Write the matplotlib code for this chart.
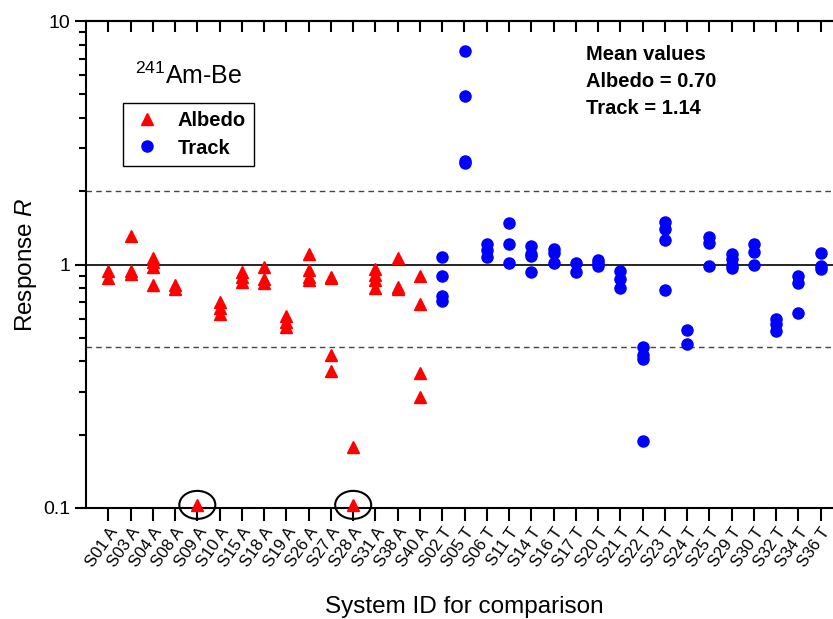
import matplotlib
matplotlib.use('Agg')
import matplotlib.pyplot as plt
from matplotlib.patches import Ellipse
from matplotlib.lines import Line2D
from matplotlib.ticker import FixedLocator, NullFormatter, LogLocator
from matplotlib.transforms import ScaledTranslation

plt.rcParams['font.family'] = ['Liberation Sans', 'DejaVu Sans']
plt.rcParams['mathtext.fontset'] = 'custom'
plt.rcParams['mathtext.rm'] = 'Liberation Sans'
plt.rcParams['mathtext.it'] = 'Liberation Sans:italic'

# ── Data ──────────────────────────────────────────────────────────────────────
albedo_ids = ["S01", "S03", "S04", "S08", "S09", "S10", "S15", "S18",
              "S19", "S26", "S27", "S28", "S31", "S38", "S40"]
albedo_values = [
    [0.94, 0.88],
    [1.31, 0.94, 0.91],
    [1.06, 1.02, 0.98, 0.82],
    [0.82, 0.795],
    [0.103],
    [0.70, 0.66, 0.625],
    [0.93, 0.89, 0.85],
    [0.975, 0.87, 0.84],
    [0.615, 0.58, 0.555],
    [1.10, 0.95, 0.89, 0.86],
    [0.89, 0.88, 0.425, 0.365],
    [0.178, 0.103],
    [0.955, 0.905, 0.86, 0.80],
    [1.065, 0.81, 0.795],
    [0.90, 0.69, 0.36, 0.285],
]

track_ids = ["S02", "S05", "S06", "S11", "S14", "S16", "S17", "S20", "S21",
             "S22", "S23", "S24", "S25", "S29", "S30", "S32", "S34", "S36"]
track_values = [
    [1.07, 0.90, 0.745, 0.705],
    [7.55, 4.9, 2.65, 2.6],
    [1.21, 1.15, 1.07],
    [1.48, 1.21, 1.01],
    [1.19, 1.10, 1.08, 0.93],
    [1.155, 1.11, 1.01],
    [1.01, 0.935],
    [1.04, 1.01, 0.99],
    [0.94, 0.87, 0.80],
    [0.46, 0.425, 0.41, 0.188],
    [1.50, 1.395, 1.26, 0.785],
    [0.54, 0.47],
    [1.30, 1.23, 0.99],
    [1.10, 1.05, 1.0, 0.965],
    [1.21, 1.13, 1.0],
    [0.60, 0.57, 0.535],
    [0.90, 0.84, 0.635],
    [1.11, 0.985, 0.96],
]

circled = ["S09", "S28"]      # results below detection, plotted at 0.1
circled_value = 0.103
upper_limit = 2.0
lower_limit = 0.46
mean_albedo = 0.70
mean_track = 1.14

labels = [f"{s} A" for s in albedo_ids] + [f"{s} T" for s in track_ids]
n = len(labels)

# ── Figure ────────────────────────────────────────────────────────────────────
W, H = 833, 619
fig = plt.figure(figsize=(W / 100, H / 100), dpi=100)
ax = fig.add_axes([86 / W, 1 - 508 / H, (843 - 86) / W, (508 - 21) / H])

for i, vals in enumerate(albedo_values):
    ax.plot([i + 1] * len(vals), vals, linestyle='none', marker='^',
            ms=9, color='#ff0000', mec='#ff0000', clip_on=False, zorder=4)
off = len(albedo_ids)
for i, vals in enumerate(track_values):
    ax.plot([off + i + 1] * len(vals), vals, linestyle='none', marker='o',
            ms=8, color='#0000ff', mec='#0000ff', clip_on=False, zorder=4)

# reference lines
ax.axhline(1.0, color='black', lw=1.2, zorder=1)
for v in (upper_limit, lower_limit):
    ax.axhline(v, color='#444444', lw=1.0, ls=(0, (4, 3)), zorder=1)

# circles around the points at the detection limit
for s in circled:
    xpos = albedo_ids.index(s) + 1
    tr = fig.dpi_scale_trans + ScaledTranslation(xpos, circled_value, ax.transData)
    ax.add_patch(Ellipse((0, 0), 0.36, 0.28, transform=tr, fill=False,
                         edgecolor='black', lw=1.5, clip_on=False, zorder=5))

# ── Axes ──────────────────────────────────────────────────────────────────────
ax.set_yscale('log')
ax.set_ylim(0.1, 10)
ax.set_xlim(0, 34)
ax.yaxis.set_major_locator(FixedLocator([0.1, 1, 10]))
ax.set_yticklabels(["0.1", "1", "10"])
ax.yaxis.set_minor_locator(LogLocator(base=10, subs=range(2, 10)))
ax.yaxis.set_minor_formatter(NullFormatter())

ax.set_xticks(range(1, n + 1))
ax.set_xticklabels(labels, rotation=55, ha='right', va='top',
                   rotation_mode='anchor', fontsize=12)
ax.tick_params(axis='x', which='major', direction='out', length=9, width=1.5,
               top=False, pad=3)
ax.tick_params(axis='y', which='major', direction='out', length=8, width=1.5,
               labelsize=14, right=False)
ax.tick_params(axis='y', which='minor', direction='out', length=5, width=1.5,
               right=False)

# top ticks pointing inward
sec = ax.secondary_xaxis('top')
sec.set_xticks(range(1, n + 1))
sec.set_xticklabels([])
sec.tick_params(direction='in', length=8, width=1.5)
sec.spines['top'].set_linewidth(1.5)

for sp in ['left', 'bottom', 'top']:
    ax.spines[sp].set_linewidth(1.5)
ax.spines['right'].set_visible(False)

ax.set_ylabel(r"Response $\it{R}$", fontsize=17.5, labelpad=3)
ax.set_xlabel("System ID for comparison", fontsize=17.5, labelpad=19)

# ── Annotations ───────────────────────────────────────────────────────────────
fig.text(135 / W, 1 - 76 / H, r"$^{241}$Am-Be", fontsize=18, va='center')
mean_lines = ["Mean values",
              f"Albedo = {mean_albedo:.2f}",
              f"Track = {mean_track:.2f}"]
for k, line in enumerate(mean_lines):
    fig.text(586 / W, 1 - (55 + 26.5 * k) / H, line,
             fontsize=14.5, fontweight='bold', va='center')

handles = [
    Line2D([], [], ls='none', marker='^', ms=9, color='#ff0000', label='Albedo'),
    Line2D([], [], ls='none', marker='o', ms=8, color='#0000ff', label='Track'),
]
leg = ax.legend(handles=handles, loc='upper left',
                bbox_to_anchor=(123 / W, 1 - 103 / H),
                bbox_transform=fig.transFigure, fancybox=False,
                edgecolor='black', framealpha=1, borderaxespad=0,
                prop={'size': 14.5, 'weight': 'bold'}, handletextpad=0.8,
                borderpad=0.42, labelspacing=0.4, handlelength=1.5)
leg.get_frame().set_linewidth(1.0)

fig.savefig('out.png', dpi=100, facecolor='white')
